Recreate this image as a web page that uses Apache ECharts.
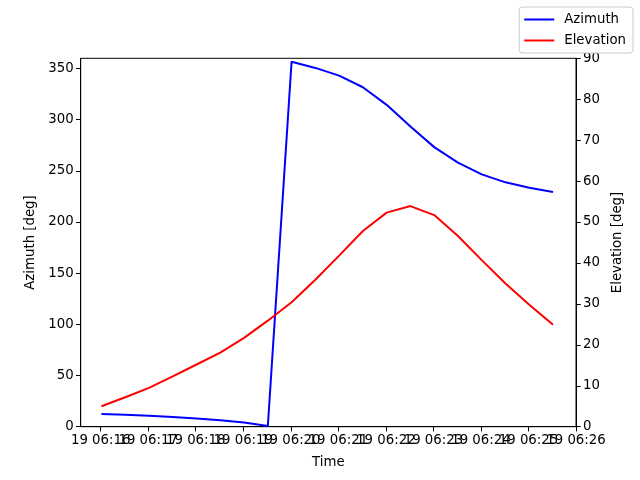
<!DOCTYPE html>
<html lang="en">
<head>
    <meta charset="UTF-8">
    <title>Azimuth / Elevation</title>
    <script src="https://cdn.jsdelivr.net/npm/echarts@6/dist/echarts.min.js"></script>
    <style>
        html, body { margin: 0; padding: 0; background: #fff; }
    </style>
</head>
<body>
<div id="main" style="width: 640px;height:480px;"></div>
<script type="text/javascript">
    // sample times (day 19)
    var times = ['06:16:01', '06:16:31', '06:17:01', '06:17:31', '06:18:01', '06:18:31', '06:19:01', '06:19:31',
                 '06:20:01', '06:20:31', '06:21:01', '06:21:31', '06:22:01', '06:22:31', '06:23:01', '06:23:31',
                 '06:24:01', '06:24:31', '06:25:01', '06:25:31'];
    var azimuth = [12.4, 11.6, 10.7, 9.5, 8.0, 6.3, 4.1, 0.7,
                   356.7, 350.6, 343.1, 331.7, 314.5, 293.4, 273.2, 258.0,
                   246.6, 238.8, 233.6, 229.3];
    var elevation = [5.0, 7.2, 9.5, 12.3, 15.2, 18.1, 21.7, 25.9,
                     30.4, 35.9, 41.8, 47.8, 52.3, 53.9, 51.7, 46.6,
                     40.7, 35.0, 29.8, 24.9];
    // tick labels
    var timeTicks = [16, 17, 18, 19, 20, 21, 22, 23, 24, 25, 26];   // minutes past 06:00
    var azTicks = [0, 50, 100, 150, 200, 250, 300, 350];
    var elTicks = [0, 10, 20, 30, 40, 50, 60, 70, 80, 90];

    // minutes past 06:00
    function toMin(s) {
        var p = s.split(':');
        return (+p[0] - 6) * 60 + (+p[1]) + (+p[2]) / 60;
    }

    var xs = times.map(toMin);
    // the time labels overlap each other, so split them over two axes
    // to keep echarts from hiding any of them
    var evenTicks = timeTicks.filter(function (t, i) { return i % 2 === 0; });
    var oddTicks = timeTicks.filter(function (t, i) { return i % 2 === 1; });

    var myChart = echarts.init(document.getElementById('main'));
    var font = 'DejaVu Sans';
    var tickStyle = { show: true, length: 4.7, inside: false, lineStyle: { color: '#000', width: 1 } };

    function timeAxis(labels, main) {
        return {
            type: 'value',
            min: 15.58,
            max: 26,
            position: 'bottom',
            name: main ? 'Time' : '',
            nameLocation: 'middle',
            nameGap: 29,
            nameTextStyle: { fontFamily: font, fontSize: 13.3, color: '#000' },
            splitLine: { show: false },
            axisLine: { show: main, lineStyle: { color: '#000', width: 1 } },
            axisTick: main ? Object.assign({ customValues: timeTicks }, tickStyle) : { show: false },
            axisLabel: {
                customValues: labels,
                showMinLabel: true,
                showMaxLabel: true,
                margin: 7,
                fontFamily: font,
                fontSize: 13.3,
                color: '#000',
                formatter: function (v) { return '19 06:' + Math.round(v); }
            }
        };
    }

    var option = {
        animation: false,
        textStyle: { fontFamily: font },
        legend: {
            orient: 'vertical',
            right: 7,
            top: 7,
            icon: 'rect',
            itemWidth: 30,
            itemHeight: 2,
            itemGap: 8,
            padding: [6, 7, 6, 5],
            borderColor: '#cccccc',
            borderWidth: 1,
            borderRadius: 3,
            backgroundColor: '#fff',
            textStyle: { fontFamily: font, fontSize: 13.3, color: '#000', padding: [0, 0, 0, 5] },
            data: ['Azimuth', 'Elevation']
        },
        grid: {
            left: 80.7,
            right: 64,
            top: 58.3,
            bottom: 53.3,
            show: true,
            borderColor: '#000',
            borderWidth: 1,
            containLabel: false
        },
        xAxis: [timeAxis(evenTicks, true), timeAxis(oddTicks, false)],
        yAxis: [
            {
                type: 'value',
                min: 0,
                max: 360,
                position: 'left',
                name: 'Azimuth [deg]',
                nameLocation: 'middle',
                nameRotate: 90,
                nameGap: 44,
                nameTextStyle: { fontFamily: font, fontSize: 13.3, color: '#000' },
                splitLine: { show: false },
                axisLine: { show: true, lineStyle: { color: '#000', width: 1 } },
                axisTick: Object.assign({ customValues: azTicks }, tickStyle),
                axisLabel: { customValues: azTicks, margin: 7, fontFamily: font, fontSize: 13.3, color: '#000' }
            },
            {
                type: 'value',
                min: 0,
                max: 90,
                position: 'right',
                name: 'Elevation [deg]',
                nameLocation: 'middle',
                nameRotate: 90,
                nameGap: 31,
                nameTextStyle: { fontFamily: font, fontSize: 13.3, color: '#000' },
                splitLine: { show: false },
                axisLine: { show: true, lineStyle: { color: '#000', width: 1 } },
                axisTick: Object.assign({ customValues: elTicks }, tickStyle),
                axisLabel: { customValues: elTicks, margin: 7, fontFamily: font, fontSize: 13.3, color: '#000' }
            }
        ],
        series: [
            {
                name: 'Azimuth',
                type: 'line',
                xAxisIndex: 0,
                yAxisIndex: 0,
                symbol: 'none',
                itemStyle: { color: '#0000ff' },
                lineStyle: { color: '#0000ff', width: 2 },
                data: xs.map(function (x, i) { return [x, azimuth[i]]; })
            },
            {
                name: 'Elevation',
                type: 'line',
                xAxisIndex: 0,
                yAxisIndex: 1,
                symbol: 'none',
                itemStyle: { color: '#ff0000' },
                lineStyle: { color: '#ff0000', width: 2 },
                data: xs.map(function (x, i) { return [x, elevation[i]]; })
            }
        ]
    };

    myChart.setOption(option);
</script>
</body>
</html>
